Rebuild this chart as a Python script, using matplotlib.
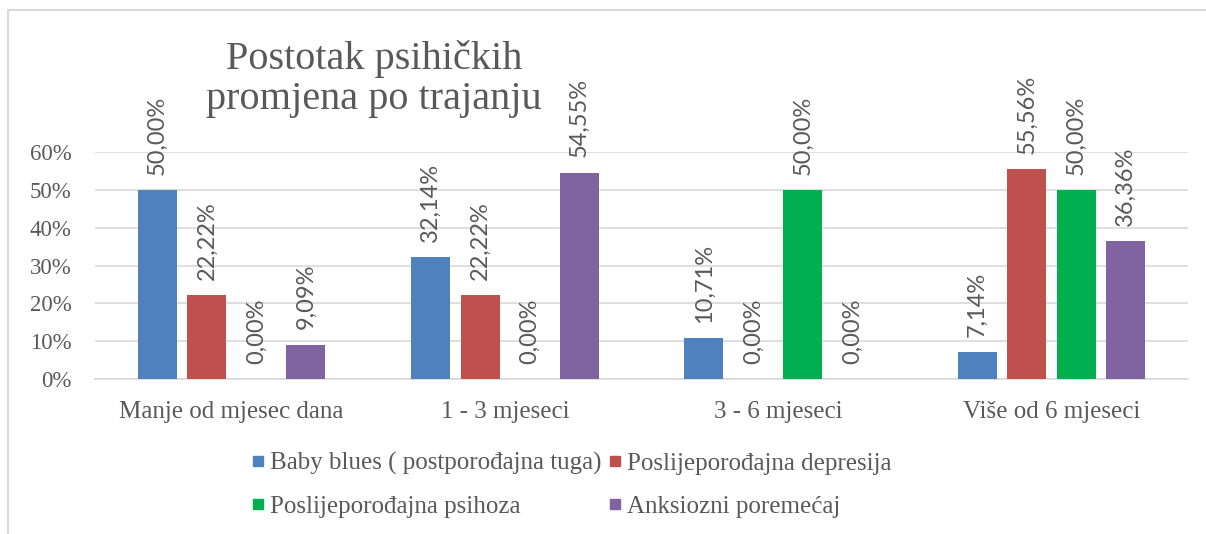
import matplotlib
matplotlib.use("Agg")
import matplotlib.pyplot as plt
from matplotlib.lines import Line2D
import numpy as np

categories = ["Manje od mjesec dana", "1 - 3 mjeseci", "3 - 6 mjeseci", "Više od 6 mjeseci"]
series_names = ["Baby blues ( postporođajna tuga)", "Poslijeporođajna depresija",
                "Poslijeporođajna psihoza", "Anksiozni poremećaj"]
baby_blues = [50.00, 32.14, 10.71, 7.14]
depresija = [22.22, 22.22, 0.00, 55.56]
psihoza = [0.00, 0.00, 50.00, 50.00]
anksiozni = [9.09, 54.55, 0.00, 36.36]
yticks = [0, 10, 20, 30, 40, 50, 60]
title = "Postotak psihičkih\npromjena po trajanju"

colors = ["#4f81bd", "#c0504d", "#00b050", "#8064a2"]
txt = "#595959"
serif = ["Liberation Serif", "DejaVu Serif"]
sans = ["Lato", "DejaVu Sans"]

W, H = 1206, 534
fig = plt.figure(figsize=(W / 100, H / 100), dpi=100)
ax = fig.add_axes([95 / W, 1 - 379 / H, (1188 - 95) / W, (379 - 152) / H])

series = [baby_blues, depresija, psihoza, anksiozni]
x = np.arange(len(categories))
pitch = 0.181
width = 0.143
for i, (vals, c) in enumerate(zip(series, colors)):
    pos = x + (i - 1.5) * pitch
    ax.bar(pos, vals, width=width, color=c, zorder=3)
    for p, v in zip(pos, vals):
        ax.annotate(f"{v:.2f}%".replace(".", ","), (p, v), xytext=(0, 11),
                    textcoords="offset points", rotation=90, ha="center", va="bottom",
                    fontsize=17, color=txt, family=sans, annotation_clip=False)

ax.set_xlim(-0.5, len(categories) - 0.5)
ax.set_ylim(0, 60)
ax.set_yticks(yticks)
ax.set_yticklabels([f"{t}%" for t in yticks], family=serif, fontsize=16.5, color=txt)
ax.set_xticks(x)
ax.set_xticklabels(categories, family=serif, fontsize=18, color=txt)
ax.tick_params(axis="y", length=0, pad=17)
ax.tick_params(axis="x", length=0, pad=16)
ax.grid(axis="y", color="#d9d9d9", lw=1.2, zorder=0)
for s in ["top", "right", "left"]:
    ax.spines[s].set_visible(False)
ax.spines["bottom"].set_color("#d9d9d9")
ax.spines["bottom"].set_linewidth(1.2)

fig.text(374 / W, 1 - 79 / H, title, ha="center", va="center", fontsize=29,
         color=txt, family=serif, linespacing=1.1)

handles = [Line2D([], [], marker="s", ls="none", color=c, markersize=7) for c in colors]
order = [0, 2, 1, 3]
leg = fig.legend([handles[k] for k in order], [series_names[k] for k in order],
                 loc="center left", ncol=2,
                 bbox_to_anchor=(223 / W, 1 - 485 / H), frameon=False,
                 prop={"family": serif, "size": 18}, handletextpad=0.0,
                 columnspacing=0.0, labelspacing=0.82, handlelength=1.0)
for t in leg.get_texts():
    t.set_color(txt)

# chart frame
fig.add_artist(Line2D([8 / W, 8 / W], [0, 1 - 10 / H], color="#d9d9d9", lw=1.5,
                      transform=fig.transFigure))
fig.add_artist(Line2D([8 / W, 1], [1 - 10 / H, 1 - 10 / H], color="#d9d9d9", lw=1.5,
                      transform=fig.transFigure))

fig.savefig("out.png", dpi=100)
